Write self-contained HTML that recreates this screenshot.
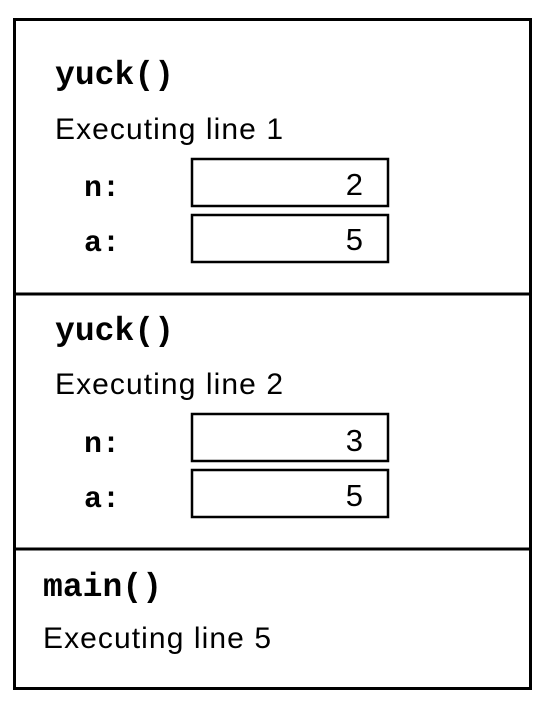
<!DOCTYPE html>
<html><head><meta charset="utf-8"><style>
html,body{margin:0;padding:0;background:#fff;}
</style></head><body>
<svg width="556" height="700" viewBox="0 0 556 700" xmlns="http://www.w3.org/2000/svg">
<rect x="0" y="0" width="556" height="700" fill="#fff"/>
<rect x="14.5" y="19.5" width="516" height="669" fill="none" stroke="#000" stroke-width="3"/>
<line x1="14" y1="294" x2="531" y2="294" stroke="#000" stroke-width="3"/>
<line x1="14" y1="549" x2="531" y2="549" stroke="#000" stroke-width="3"/>
<g font-family="Liberation Mono, monospace" font-weight="bold" font-size="33" fill="#000">
<text x="55" y="84" textLength="119">yuck()</text>
<text x="55" y="340" textLength="119">yuck()</text>
<text x="43" y="596" textLength="119">main()</text>
<text x="84" y="196" font-size="30">n:</text>
<text x="84" y="251" font-size="30">a:</text>
<text x="84" y="452" font-size="30">n:</text>
<text x="84" y="507" font-size="30">a:</text>
</g>
<g font-family="Liberation Sans, sans-serif" font-size="30" fill="#000">
<text x="55" y="139" textLength="228">Executing line 1</text>
<text x="55" y="394" textLength="228">Executing line 2</text>
<text x="43" y="648" textLength="228">Executing line 5</text>
</g>
<g fill="none" stroke="#000" stroke-width="2.5">
<rect x="192" y="159" width="196" height="47"/>
<rect x="192" y="215" width="196" height="47"/>
<rect x="192" y="414" width="196" height="47"/>
<rect x="192" y="470" width="196" height="47"/>
</g>
<g font-family="Liberation Sans, sans-serif" font-size="31" fill="#000" text-anchor="end">
<text x="363" y="195">2</text>
<text x="363" y="250">5</text>
<text x="363" y="451">3</text>
<text x="363" y="506">5</text>
</g>
</svg>
</body></html>
